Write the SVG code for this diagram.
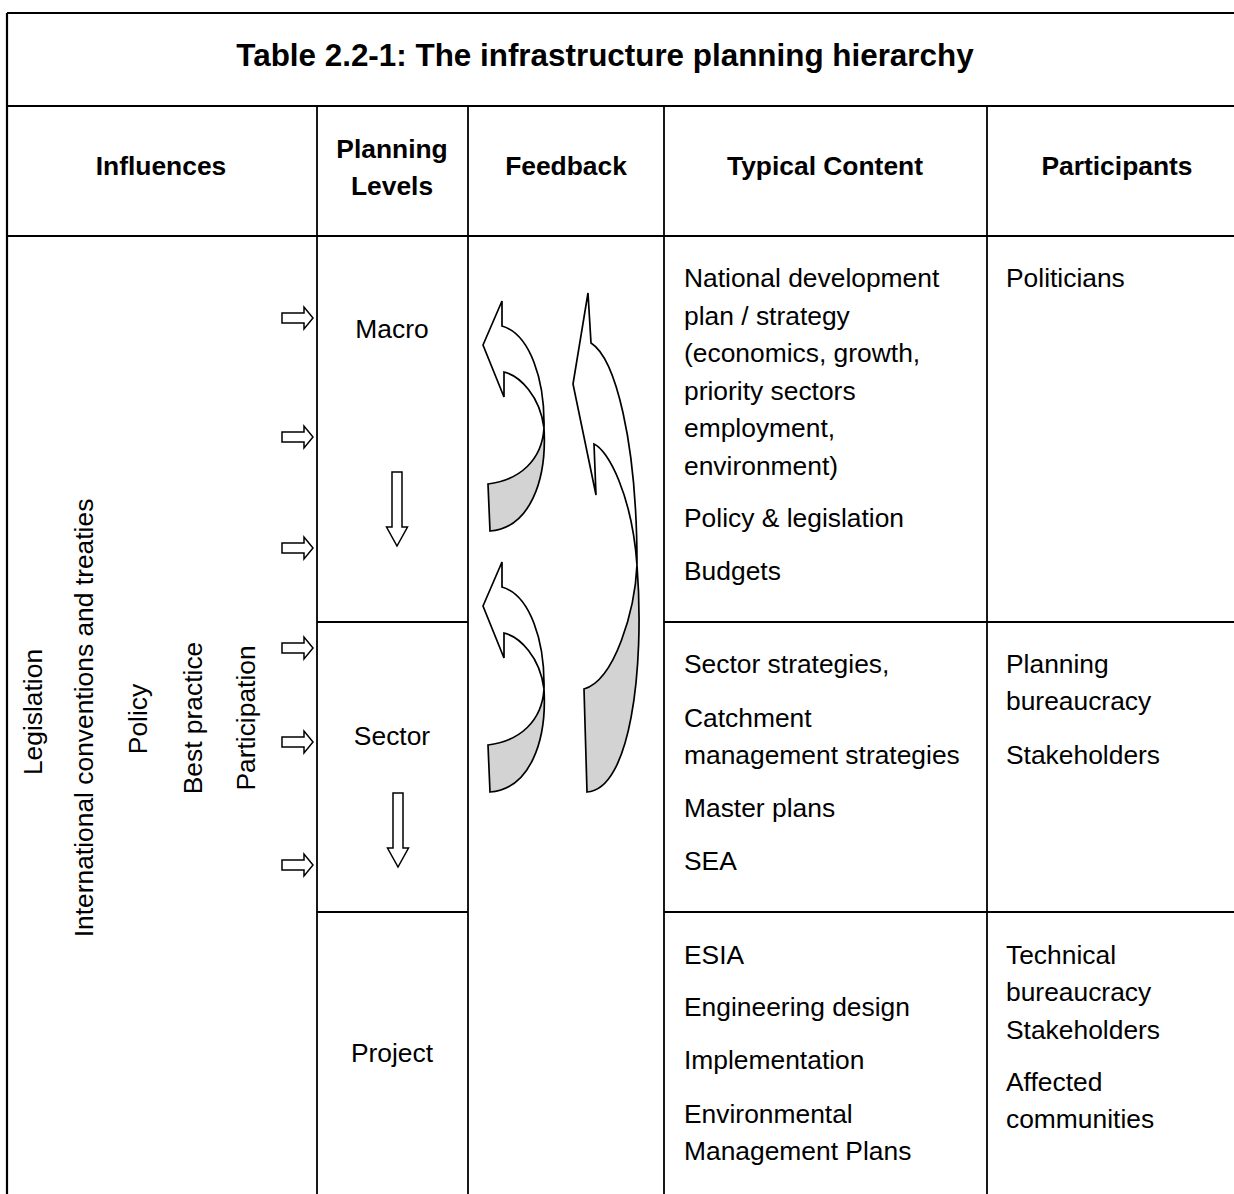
<svg xmlns="http://www.w3.org/2000/svg" width="1234" height="1194" viewBox="0 0 1234 1194">
<style>
text{font-family:"Liberation Sans",Arial,sans-serif;font-size:26.4px;fill:#000}
.b{font-weight:bold}
.m{text-anchor:middle}
.grid{stroke:#000;stroke-width:1.8;fill:none}
.outer{stroke:#000;stroke-width:2.2;fill:none}
.blk{fill:#fff;stroke:#000;stroke-width:1.5;stroke-linejoin:miter}
.front{fill:#fff;stroke:#000;stroke-width:1.7;stroke-linejoin:miter}
.back{fill:#d3d3d3;stroke:#000;stroke-width:1.7;stroke-linejoin:miter}
</style>
<defs>
<path id="rarrow" class="blk" d="M0,-5 H22 V-11 L31,0 L22,11 V5 H0 Z"/>
<path id="darrow" class="blk" d="M-5,0 V55 H-10.5 L0,74 L10.5,55 H5 V0 Z"/>
<g id="smallcurve">
<path class="back" d="M544,428 C547,480 530,528 490,531 L488,484 C520,480 542,460 544,428 Z"/>
<path class="front" d="M483,345 L502,301 L502,326 C530,334 545,380 544,428 C540,396 520,376 504,372 L504,397 Z"/>
</g>
</defs>
<rect width="1234" height="1194" fill="#fff"/>
<g id="grid">
<path class="outer" d="M7,13 H1234 M7,13 V1194"/>
<path class="grid" d="M7,106 H1234 M7,236 H1234 M317,106 V1194 M468,106 V1194 M664,106 V1194 M987,106 V1194 M317,622 H468 M664,622 H1234 M317,912 H468 M664,912 H1234"/>
</g>
<g id="title"><text class="b m" x="605" y="66" style="font-size:31.4px">Table 2.2-1: The infrastructure planning hierarchy</text></g>
<g id="headers" class="b">
<text class="b m" x="161" y="175">Influences</text>
<text class="b m" x="392" y="158">Planning</text>
<text class="b m" x="392" y="195">Levels</text>
<text class="b m" x="566" y="175">Feedback</text>
<text class="b m" x="825" y="175">Typical Content</text>
<text class="b m" x="1117" y="175">Participants</text>
</g>
<g id="influences">
<text class="m" transform="translate(42,712) rotate(-90)">Legislation</text>
<text class="m" transform="translate(93,718) rotate(-90)">International conventions and treaties</text>
<text class="m" transform="translate(147,719) rotate(-90)">Policy</text>
<text class="m" transform="translate(202,718) rotate(-90)">Best practice</text>
<text class="m" transform="translate(255,718) rotate(-90)">Participation</text>
</g>
<g id="level-macro"><text class="m" x="392" y="338">Macro</text></g>
<g id="level-sector"><text class="m" x="392" y="745">Sector</text></g>
<g id="level-project"><text class="m" x="392" y="1062">Project</text></g>
<g id="content-macro">
<text x="684" y="287">National development</text>
<text x="684" y="325">plan / strategy</text>
<text x="684" y="362">(economics, growth,</text>
<text x="684" y="400">priority sectors</text>
<text x="684" y="437">employment,</text>
<text x="684" y="475">environment)</text>
<text x="684" y="527">Policy &amp; legislation</text>
<text x="684" y="580">Budgets</text>
</g>
<g id="content-sector">
<text x="684" y="673">Sector strategies,</text>
<text x="684" y="727">Catchment</text>
<text x="684" y="764">management strategies</text>
<text x="684" y="817">Master plans</text>
<text x="684" y="870">SEA</text>
</g>
<g id="content-project">
<text x="684" y="964">ESIA</text>
<text x="684" y="1016">Engineering design</text>
<text x="684" y="1069">Implementation</text>
<text x="684" y="1123">Environmental</text>
<text x="684" y="1160">Management Plans</text>
</g>
<g id="participants-macro"><text x="1006" y="287">Politicians</text></g>
<g id="participants-sector">
<text x="1006" y="673">Planning</text>
<text x="1006" y="710">bureaucracy</text>
<text x="1006" y="764">Stakeholders</text>
</g>
<g id="participants-project">
<text x="1006" y="964">Technical</text>
<text x="1006" y="1001">bureaucracy</text>
<text x="1006" y="1039">Stakeholders</text>
<text x="1006" y="1091">Affected</text>
<text x="1006" y="1128">communities</text>
</g>
<g id="connectors">
<use href="#rarrow" x="282" y="318"/>
<use href="#rarrow" x="282" y="437"/>
<use href="#rarrow" x="282" y="548"/>
<use href="#rarrow" x="282" y="648"/>
<use href="#rarrow" x="282" y="742"/>
<use href="#rarrow" x="282" y="865"/>
<use href="#darrow" x="397" y="472"/>
<use href="#darrow" x="398" y="793"/>
<use href="#smallcurve"/>
<use href="#smallcurve" y="261"/>
<path class="back" d="M637,565 C645,670 630,790 587,792 L584,689 C615,680 635,610 637,565 Z"/>
<path class="front" d="M588,293 L591,343 C615,358 637,440 637,565 C632,495 608,450 594,444 L596,495 L573,384 Z"/>
</g>
</svg>
